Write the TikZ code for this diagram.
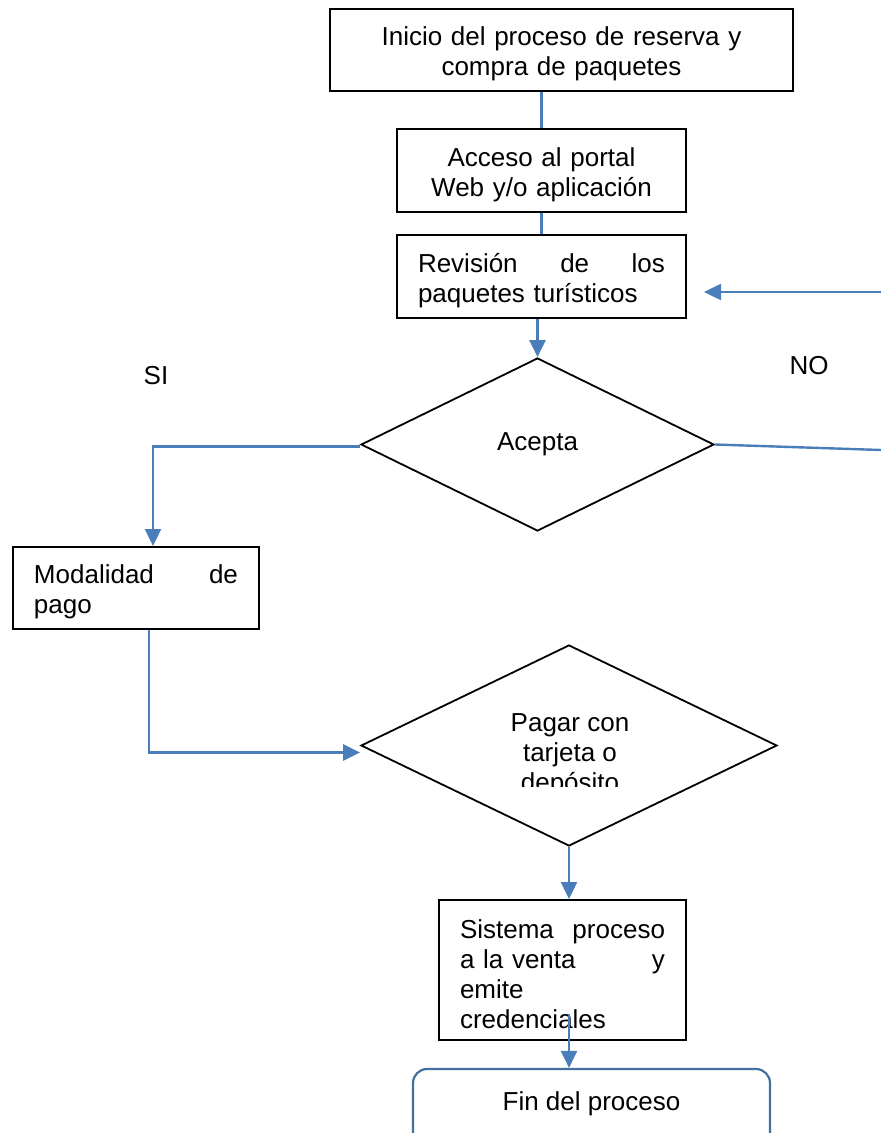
\documentclass[tikz,border=0pt]{standalone}
\usepackage{fontspec}
\setmainfont{Liberation Sans}
\usetikzlibrary{shapes.geometric,arrows.meta}
\definecolor{flow}{HTML}{4A7EBB}
\definecolor{finc}{HTML}{41719C}
\begin{document}
\begin{tikzpicture}[x=1pt,y=-1pt,
  every node/.style={font=\fontsize{26}{30}\selectfont},
  box/.style={draw=black, line width=2pt, rectangle, inner sep=0pt, text height=27pt},
  dia/.style={draw=black, line width=1.8pt, diamond, inner sep=0pt},
  link/.style={draw=flow, line width=2.4pt},
  arr/.style={link, -{Triangle[length=17pt,width=16pt]}},
  lbl/.style={inner sep=0pt}
]
\clip (0,0) rectangle (881,1133);
% nodes
\node[box, minimum width=463, minimum height=82, text width=440, align=center] (b1) at (561.5,50)
  {Inicio del proceso de reserva y\\compra de paquetes};
\node[box, minimum width=289, minimum height=83, text width=270, align=center] (b2) at (541.5,170.5)
  {Acceso al portal\\Web y/o aplicación};
\node[box, minimum width=289, minimum height=83, text width=247, align=left] (b3) at (541.5,276.5)
  {Revisión\hfill de\hfill los\\paquetes turísticos};
\node[dia, minimum width=353, minimum height=173] (d1) at (537.5,444.5) {Acepta};
\node[box, minimum width=246, minimum height=82, text width=204, align=left] (m) at (136,588)
  {Modalidad\hfill de\\pago};
\node[dia, minimum width=416, minimum height=201] (d2) at (569,745.5) {};
\begin{scope}
  \clip (440,680) rectangle (700,786);
  \node[lbl, align=center] (d2t) at (570,755) {Pagar con\\tarjeta o\\depósito};
\end{scope}
\node[box, minimum width=247, minimum height=140, text width=205, align=left] (s) at (562.5,970)
  {Sistema\hfill proceso\\a la venta\hfill y\\emite\\credenciales};
\node[draw=finc, line width=2.2pt, rounded corners=14pt, minimum width=357, minimum height=80, inner sep=0pt] (f) at (591.5,1109)
  {\raisebox{15pt}{Fin del proceso}};
\node[lbl] (si) at (156,376) {SI};
\node[lbl] (no) at (809,366) {NO};
\coordinate (noin) at (881,292);
\coordinate (noout) at (881,450);
% connectors
\draw[link] (b2.north) -- (b2.north |- b1.south);
\draw[link] (b2.south) -- (b3.north);
\draw[arr, shorten >=17pt] (noin) -- (b3.east |- noin);
\draw[arr] (d1.north |- b3.south) -- (d1.north);
\draw[link] (d1.east) -- (noout);
\draw[arr] ([yshift=-2pt]d1.west) -| ([xshift=17pt]m.north);
\draw[arr] ([xshift=13pt]m.south) |- ([yshift=-7pt]d2.west);
\draw[arr] (d2.south) -- (d2.south |- s.north);
\draw[arr] (d2.south |- s.south) ++(0,-27) -- (d2.south |- f.north);
\end{tikzpicture}
\end{document}
